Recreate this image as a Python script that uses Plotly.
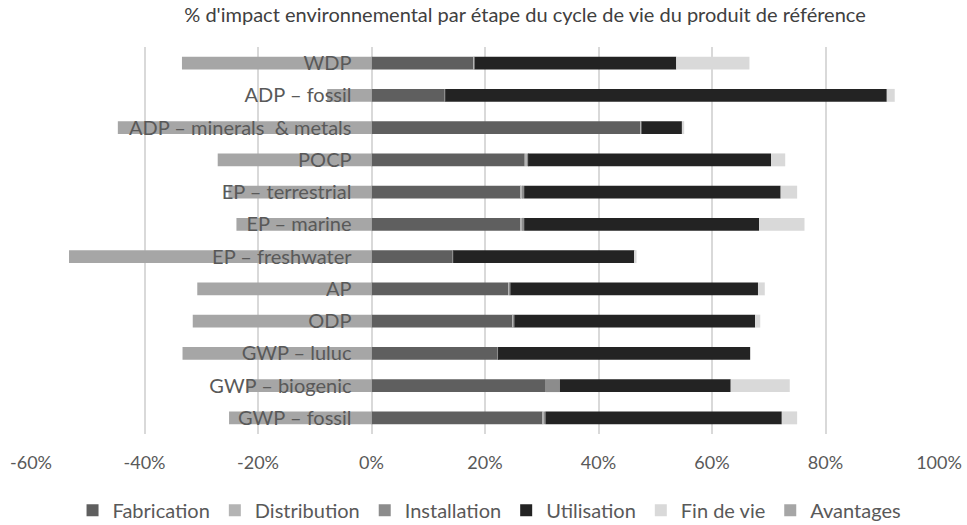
import plotly.graph_objects as go

categories = ["GWP – fossil", "GWP – biogenic", "GWP – luluc", "ODP", "AP",
              "EP – freshwater", "EP – marine", "EP – terrestrial", "POCP",
              "ADP – minerals  & metals", "ADP – fossil", "WDP"]

fabrication  = [30.1, 30.7, 22.2, 24.9, 24.1, 14.2, 26.2, 26.3, 27.0, 47.4, 12.8, 18.0]
distribution = [0.3, 0.0, 0.0, 0.2, 0.2, 0.1, 0.3, 0.3, 0.4, 0.1, 0.1, 0.1]
installation = [0.3, 2.5, 0.1, 0.1, 0.2, 0.1, 0.4, 0.3, 0.2, 0.1, 0.1, 0.1]
utilisation  = [41.6, 30.1, 44.4, 42.4, 43.6, 32.0, 41.4, 45.2, 42.8, 7.1, 77.8, 35.5]
fin_de_vie   = [2.7, 10.4, 0.1, 0.9, 1.2, 0.3, 8.0, 2.9, 2.5, 0.4, 1.4, 12.9]
avantages    = [-25.1, -21.9, -33.3, -31.5, -30.7, -53.3, -23.8, -25.2, -27.1, -44.7, -7.8, -33.4]

x_ticks = [-60, -40, -20, 0, 20, 40, 60, 80, 100]
x_tick_labels = ["-60%", "-40%", "-20%", "0%", "20%", "40%", "60%", "80%", "100%"]

series = [
    ("Fabrication", fabrication, "#5f5f5f"),
    ("Distribution", distribution, "#b4b4b4"),
    ("Installation", installation, "#8c8c8c"),
    ("Utilisation", utilisation, "#232323"),
    ("Fin de vie", fin_de_vie, "#d9d9d9"),
    ("Avantages", avantages, "#a6a6a6"),
]

FONT = "Lato"
TXT = "#595959"

fig = go.Figure()
for name, vals, color in series:
    fig.add_trace(go.Bar(
        y=categories, x=vals, name=name, orientation="h",
        marker=dict(color=color, line=dict(width=0)),
    ))

fig.update_layout(
    width=967, height=525,
    barmode="relative",
    bargap=0.6,
    plot_bgcolor="white", paper_bgcolor="white",
    margin=dict(l=31, r=28, t=47, b=91, autoexpand=False),
    font=dict(family=FONT, color=TXT, size=18),
    title=dict(text="% d'impact environnemental par étape du cycle de vie du produit de référence",
               x=525 / 967, xanchor="center", y=0.971, yanchor="middle",
               font=dict(family=FONT, size=20, color="#404040")),
    legend=dict(orientation="h", x=0.505, xanchor="center", y=-0.197, yanchor="middle",
                font=dict(family=FONT, size=20, color=TXT), traceorder="normal",
                itemwidth=30),
    showlegend=True,
)
fig.update_xaxes(range=[-60, 100], tickvals=x_ticks, ticktext=x_tick_labels,
                 showgrid=True, gridcolor="#d9d9d9", gridwidth=1.5,
                 zeroline=False, showline=False, ticks="", automargin=False,
                 ticklabelstandoff=16, tickfont=dict(family=FONT, size=18, color=TXT))
fig.update_yaxes(categoryorder="array", categoryarray=categories,
                 anchor="free", position=0.375, showgrid=False, zeroline=False,
                 showline=False, ticks="", automargin=False, ticklabelstandoff=20,
                 tickfont=dict(family=FONT, size=20, color=TXT))

fig.write_html("out.html", config={"displayModeBar": False},
               post_script="document.body.style.margin='0';document.body.style.overflow='hidden';")
